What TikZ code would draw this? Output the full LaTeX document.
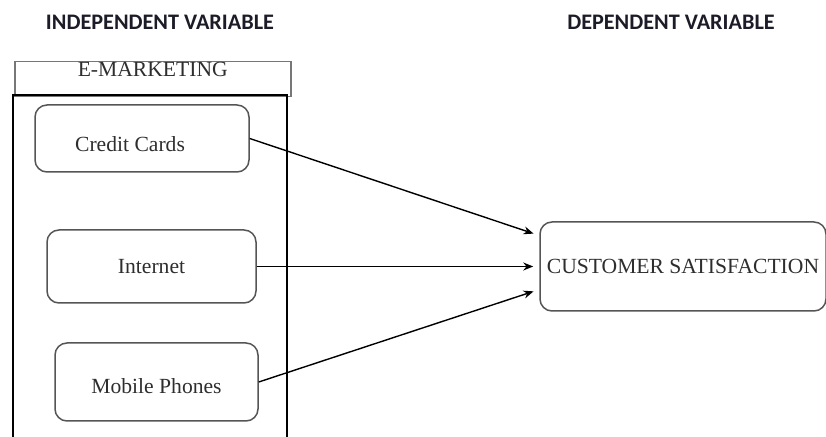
\documentclass[tikz,border=0pt]{standalone}
\usepackage{fontspec}
\setmainfont{Liberation Serif}
\newfontfamily\headfont{Carlito}
\usetikzlibrary{arrows.meta, positioning}

\definecolor{boxgray}{HTML}{555555}
\definecolor{txtgray}{HTML}{2E2E2E}
\definecolor{headink}{HTML}{1C1C28}

\tikzset{
  varhead/.style={font=\headfont\bfseries\fontsize{11.1}{13}\selectfont, text=headink},
  itembox/.style={draw=boxgray, line width=0.75pt, rounded corners=6pt,
    minimum width=107pt, minimum height=34pt, text=txtgray,
    font=\fontsize{10.8}{13}\selectfont},
  link/.style={line width=0.7pt, -{Stealth[length=5pt, width=4pt]}, shorten >=3pt}
}

\begin{document}
\begin{tikzpicture}[x=0.5pt, y=-0.5pt]
    \useasboundingbox (0,0) rectangle (826,437);

    % headings
    \node[varhead] (indep) at (160,22) {INDEPENDENT VARIABLE};
    \node[varhead] (dep) at (671,22) {DEPENDENT VARIABLE};

    % e-marketing block
    \node[draw=boxgray!80, line width=0.75pt, anchor=north west, minimum width=138pt,
          minimum height=17pt, inner ysep=2pt, text height=5.5pt, text depth=8pt,
          text=txtgray, font=\fontsize{10.8}{13}\selectfont] (emkt) at (14,61) {E-MARKETING};
    \draw[line width=1pt] (13,440) -- (13,95) -- (287,95) -- (287,440);

    \node[itembox, minimum height=33.5pt, text height=12.9pt] (cards) at (142,138.5) {Credit Cards\hspace*{12pt}};
    \node[itembox, minimum width=104.5pt, minimum height=36.5pt] (net) at (151.5,266.5) {Internet};
    \node[itembox, minimum width=101.5pt, minimum height=39pt, text height=11.4pt] (phones) at (156.5,382) {Mobile Phones};

    % outcome
    \node[itembox, minimum width=143pt, minimum height=44.5pt] (satis) at (683,266.5) {CUSTOMER SATISFACTION};

    \draw[link] (cards.east) -- ([yshift=15.5pt]satis.west);
    \draw[link] (net.east) -- (satis.west);
    \draw[link] (phones.east) -- ([yshift=-11.5pt]satis.west);
\end{tikzpicture}
\end{document}
